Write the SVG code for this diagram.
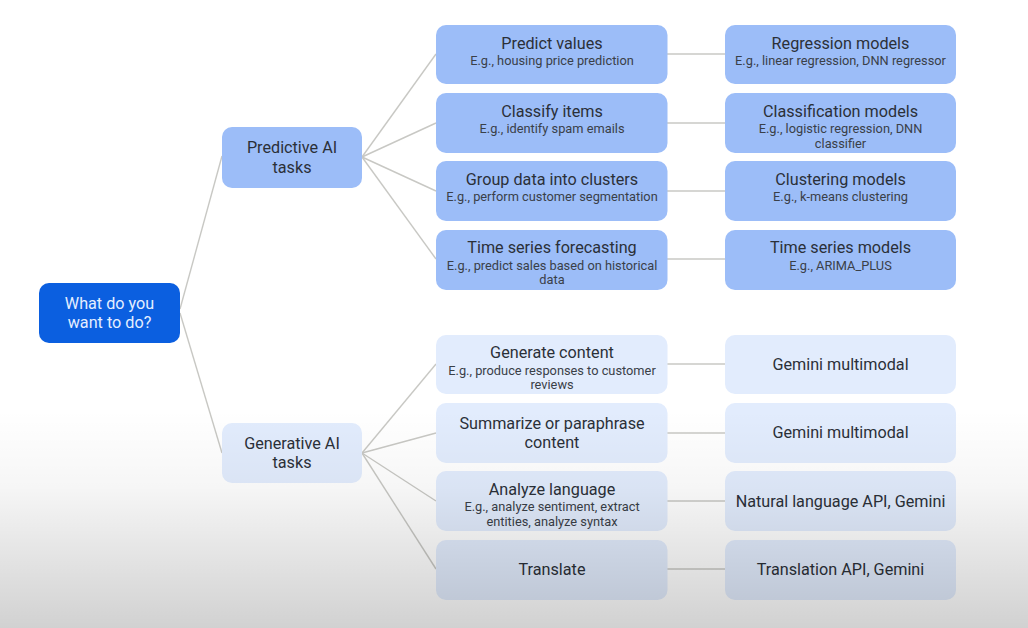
<svg xmlns="http://www.w3.org/2000/svg" width="1028" height="628" viewBox="0 0 1028 628">
<style>
text{font-family:Roboto,"Liberation Sans",sans-serif;text-anchor:middle;fill:#2b3038}
.t{font-size:16.2px;transform:translateY(.3px)}
.s{font-size:12.8px;fill:#3a4048;transform:translateY(.4px)}
.w{fill:#e4eeff;font-size:16.2px}
.a{fill:#9cbdf8}
.b{fill:#e2ecfd}
.r{fill:#0b5fe0}
rect[rx]{rx:10px}
line{stroke:#c8c8c4;stroke-width:1.4;fill:none}
</style>
<defs>
<linearGradient id="shade" x1="0" y1="0" x2="0" y2="1">
<stop offset="0" stop-color="#000" stop-opacity="0"/>
<stop offset="0.35" stop-color="#000" stop-opacity="0.035"/>
<stop offset="1" stop-color="#000" stop-opacity="0.18"/>
</linearGradient>
</defs>
<rect width="1028" height="628" fill="#fff"/>
<g id="connectors">
<line x1="180" y1="309" x2="222" y2="156"/>
<line x1="180" y1="313" x2="222" y2="453"/>
<line x1="362" y1="157" x2="436" y2="54"/>
<line x1="362" y1="157" x2="436" y2="123"/>
<line x1="362" y1="157" x2="436" y2="191"/>
<line x1="362" y1="157" x2="436" y2="259"/>
<line x1="362" y1="453" x2="436" y2="364"/>
<line x1="362" y1="453" x2="436" y2="433"/>
<line x1="362" y1="453" x2="436" y2="501"/>
<line x1="362" y1="453" x2="436" y2="569"/>
<line x1="667" y1="54" x2="725" y2="54"/>
<line x1="667" y1="123" x2="725" y2="123"/>
<line x1="667" y1="191" x2="725" y2="191"/>
<line x1="667" y1="259" x2="725" y2="259"/>
<line x1="667" y1="364" x2="725" y2="364"/>
<line x1="667" y1="433" x2="725" y2="433"/>
<line x1="667" y1="501" x2="725" y2="501"/>
<line x1="667" y1="569" x2="725" y2="569"/>
</g>
<g id="root"><rect class="r" x="39" y="283" width="141" height="60" rx="9"/><text class="w" x="109.500" y="309">What do you</text><text class="w" x="109.500" y="328">want to do?</text></g>
<g id="predictive"><rect class="a" x="222" y="127" width="140" height="61" rx="9"/><text class="t" x="292" y="153">Predictive AI</text><text class="t" x="292" y="173">tasks</text></g>
<g id="generative"><rect class="b" x="222" y="423" width="140" height="60" rx="9"/><text class="t" x="292" y="449">Generative AI</text><text class="t" x="292" y="468">tasks</text></g>
<g id="predict-values"><rect class="a" x="436" y="25" width="231.500" height="59" rx="9"/><text class="t" x="552" y="48.500">Predict values</text><text class="s" x="552" y="65">E.g., housing price prediction</text></g>
<g id="classify-items"><rect class="a" x="436" y="93" width="231.500" height="60" rx="9"/><text class="t" x="552" y="117">Classify items</text><text class="s" x="552" y="133">E.g., identify spam emails</text></g>
<g id="group-data"><rect class="a" x="436" y="161" width="231.500" height="60" rx="9"/><text class="t" x="552" y="185">Group data into clusters</text><text class="s" x="552" y="201">E.g., perform customer segmentation</text></g>
<g id="time-series"><rect class="a" x="436" y="230" width="231.500" height="60" rx="9"/><text class="t" x="552" y="253">Time series forecasting</text><text class="s" x="552" y="270">E.g., predict sales based on historical</text><text class="s" x="552" y="284">data</text></g>
<g id="regression"><rect class="a" x="725" y="25" width="231" height="59" rx="9"/><text class="t" x="840.500" y="48.500">Regression models</text><text class="s" x="840.500" y="65">E.g., linear regression, DNN regressor</text></g>
<g id="classification"><rect class="a" x="725" y="93" width="231" height="60" rx="9"/><text class="t" x="840.500" y="117">Classification models</text><text class="s" x="840.500" y="133">E.g., logistic regression, DNN</text><text class="s" x="840.500" y="148">classifier</text></g>
<g id="clustering"><rect class="a" x="725" y="161" width="231" height="60" rx="9"/><text class="t" x="840.500" y="185">Clustering models</text><text class="s" x="840.500" y="201">E.g., k-means clustering</text></g>
<g id="time-series-models"><rect class="a" x="725" y="230" width="231" height="60" rx="9"/><text class="t" x="840.500" y="253">Time series models</text><text class="s" x="840.500" y="270">E.g., ARIMA_PLUS</text></g>
<g id="generate"><rect class="b" x="436" y="335" width="231.500" height="59" rx="9"/><text class="t" x="552" y="358">Generate content</text><text class="s" x="552" y="375">E.g., produce responses to customer</text><text class="s" x="552" y="389">reviews</text></g>
<g id="summarize"><rect class="b" x="436" y="403" width="231.500" height="60" rx="9"/><text class="t" x="552" y="429">Summarize or paraphrase</text><text class="t" x="552" y="448">content</text></g>
<g id="analyze"><rect class="b" x="436" y="471" width="231.500" height="60" rx="9"/><text class="t" x="552" y="495">Analyze language</text><text class="s" x="552" y="511">E.g., analyze sentiment, extract</text><text class="s" x="552" y="526">entities, analyze syntax</text></g>
<g id="translate"><rect class="b" x="436" y="540" width="231.500" height="60" rx="9"/><text class="t" x="552" y="575">Translate</text></g>
<g id="gemini-1"><rect class="b" x="725" y="335" width="231" height="59" rx="9"/><text class="t" x="840.500" y="370">Gemini multimodal</text></g>
<g id="gemini-2"><rect class="b" x="725" y="403" width="231" height="60" rx="9"/><text class="t" x="840.500" y="438">Gemini multimodal</text></g>
<g id="natural-language"><rect class="b" x="725" y="471" width="231" height="60" rx="9"/><text class="t" x="840.500" y="507">Natural language API, Gemini</text></g>
<g id="translation"><rect class="b" x="725" y="540" width="231" height="60" rx="9"/><text class="t" x="840.500" y="575">Translation API, Gemini</text></g>
<rect x="0" y="410" width="1028" height="218" fill="url(#shade)"/>
</svg>
